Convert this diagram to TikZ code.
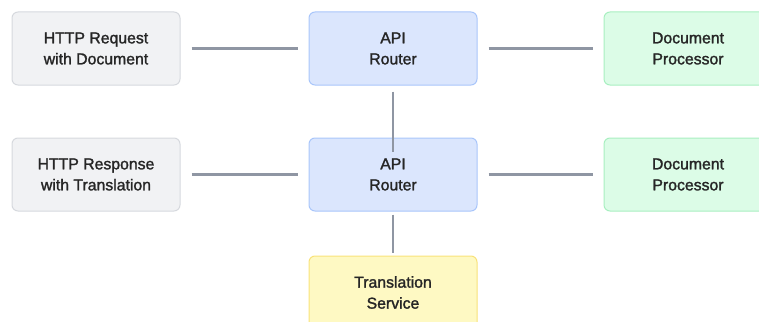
\documentclass[tikz,border=0pt]{standalone}
\usepackage{fontspec}
\setmainfont{Liberation Sans}[FakeBold=1.6]
\definecolor{linegray}{HTML}{8F96A3}
\definecolor{reqfill}{HTML}{F1F2F4}
\definecolor{reqline}{HTML}{D6D9DE}
\definecolor{apifill}{HTML}{DBE6FD}
\definecolor{apiline}{HTML}{A9C6FA}
\definecolor{docfill}{HTML}{DCFCE7}
\definecolor{docline}{HTML}{A8EFC0}
\definecolor{trfill}{HTML}{FEF9C3}
\definecolor{trline}{HTML}{F8E27A}
\tikzset{
  box/.style={rounded corners=6pt, line width=1pt, minimum width=168pt,
    minimum height=73pt, align=center, text=black!85,
    font=\fontsize{15.8}{21}\selectfont},
  httpbox/.style={box, fill=reqfill, draw=reqline},
  apibox/.style={box, fill=apifill, draw=apiline},
  docbox/.style={box, fill=docfill, draw=docline},
  transbox/.style={box, fill=trfill, draw=trline},
  link/.style={draw=linegray, line width=2.5pt}
}
\begin{document}
\begin{tikzpicture}[x=1pt, y=-1pt]
  \useasboundingbox (0,0) rectangle (759,321);
  \clip (0,0) rectangle (759,321);
  % top row
  \node[httpbox] (req) at (96,48.5) {HTTP Request\\with Document};
  \node[apibox] (router1) at (393,48.5) {API\\Router};
  \node[docbox] (proc1) at (688,48.5) {Document\\Processor};
  % second row
  \node[httpbox] (resp) at (96,174.5) {HTTP Response\\with Translation};
  \node[apibox] (router2) at (393,174.5) {API\\Router};
  \node[docbox] (proc2) at (688,174.5) {Document\\Processor};
  \node[transbox] (trans) at (393,292.5) {Translation\\Service};
  % links
  \draw[link, shorten <=11pt, shorten >=11pt] (req) -- (router1);
  \draw[link, shorten <=11pt, shorten >=11pt] (router1) -- (proc1);
  \draw[link, shorten <=11pt, shorten >=11pt] (resp) -- (router2);
  \draw[link, shorten <=11pt, shorten >=11pt] (router2) -- (proc2);
  \draw[link, shorten <=6pt, shorten >=-14pt] (router1) -- (router2);
  \draw[link, shorten <=3pt, shorten >=3pt] (router2) -- (trans);
\end{tikzpicture}
\end{document}
